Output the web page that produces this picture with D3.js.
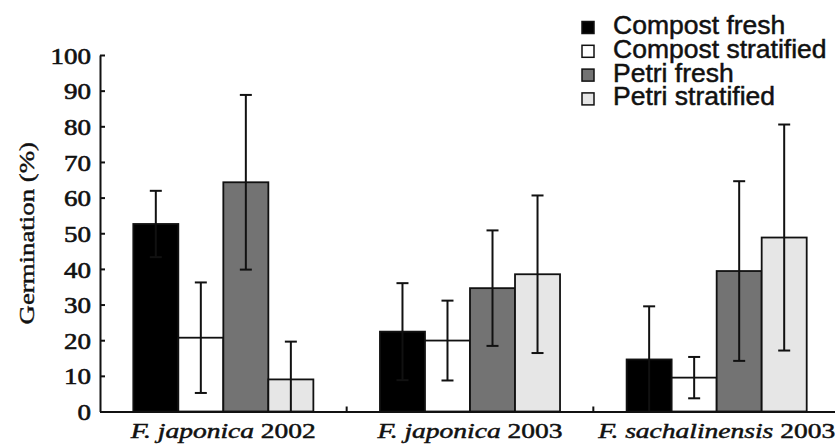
<!DOCTYPE html>
<html><head><meta charset="utf-8">
<script src="https://cdn.jsdelivr.net/npm/d3@7"></script>
<style>html,body{margin:0;padding:0;background:#fff;} svg{display:block;}</style>
</head><body>
<svg id="chart" width="835" height="448"></svg>
<script>
// ---- data ----
const groupSpecies = ["F. japonica", "F. japonica", "F. sachalinensis"];
const groupYears = ["2002", "2003", "2003"];
const series = ["Compost fresh", "Compost stratified", "Petri fresh", "Petri stratified"];
const compostFresh = [52.6, 22.4, 14.6];
const compostFreshErr = [9.3, 13.6, 14.9];
const compostStratified = [20.7, 19.9, 9.5];
const compostStratifiedErr = [15.5, 11.2, 5.8];
const petriFresh = [64.3, 34.6, 39.4];
const petriFreshErr = [24.5, 16.2, 25.2];
const petriStratified = [9.0, 38.5, 48.8];
const petriStratifiedErr = [10.6, 22.1, 31.7];
const yTicks = [0, 10, 20, 30, 40, 50, 60, 70, 80, 90, 100];
const fills = ["#000000", "#ffffff", "#737373", "#e6e6e6"];

const values = [compostFresh, compostStratified, petriFresh, petriStratified];
const errors = [compostFreshErr, compostStratifiedErr, petriFreshErr, petriStratifiedErr];

const svg = d3.select("#chart");
const serif = "'Liberation Serif','Times New Roman',serif";
const sans = "'Liberation Sans',Arial,sans-serif";

const x0 = d3.scaleBand().domain(d3.range(groupSpecies.length)).range([100, 840])
  .paddingInner(0.27).paddingOuter(0.135);
const x1 = d3.scaleBand().domain(series).range([0, x0.bandwidth()]);
const y = d3.scaleLinear().domain([0, 100]).range([411.5, 55]);

// bars
const data = [];
groupSpecies.forEach((g, gi) => series.forEach((s, si) => {
  data.push({gi, si, s, v: values[si][gi], e: errors[si][gi]});
}));

svg.append("g").selectAll("rect").data(data).join("rect")
  .attr("x", d => x0(d.gi) + x1(d.s))
  .attr("y", d => y(d.v))
  .attr("width", x1.bandwidth())
  .attr("height", d => y(0) - y(d.v))
  .attr("fill", d => fills[d.si])
  .attr("stroke", "#111")
  .attr("stroke-width", 1.8);

// error bars
const eb = svg.append("g").attr("stroke", "#111").attr("stroke-width", 2);
data.forEach(d => {
  const cx = x0(d.gi) + x1(d.s) + x1.bandwidth() / 2;
  const lo = Math.max(0, d.v - d.e), hi = d.v + d.e;
  eb.append("line").attr("x1", cx).attr("x2", cx).attr("y1", y(lo)).attr("y2", y(hi));
  eb.append("line").attr("x1", cx - 6).attr("x2", cx + 6).attr("y1", y(hi)).attr("y2", y(hi));
  if (d.v - d.e > 0) eb.append("line").attr("x1", cx - 6).attr("x2", cx + 6).attr("y1", y(lo)).attr("y2", y(lo));
});

// y axis
const ya = svg.append("g").attr("transform", "translate(100,0)")
  .call(d3.axisLeft(y).tickValues(yTicks).tickSize(-5).tickSizeOuter(0).tickPadding(9));
ya.select(".domain").attr("stroke", "#111").attr("stroke-width", 2);
ya.selectAll(".tick line").attr("stroke", "#111").attr("stroke-width", 2);
ya.selectAll(".tick text")
  .attr("x", 0).attr("dy", "0.36em")
  .attr("transform", "translate(-9,0) scale(1.2,1)")
  .attr("font-family", serif).attr("font-size", 22.5).attr("fill", "#111")
  .attr("stroke", "#111").attr("stroke-width", 0.6);

// x axis
const xa = svg.append("g").attr("transform", `translate(0,${y(0)})`)
  .call(d3.axisBottom(x0).tickSize(0).tickSizeOuter(0).tickFormat(""));
xa.select(".domain").attr("stroke", "#111").attr("stroke-width", 2);
xa.selectAll(".tick text").each(function(d) {
  const t = d3.select(this).attr("y", 27).attr("dy", 0).attr("x", 0)
    .attr("transform", "scale(1.25,1)")
    .attr("font-family", serif).attr("font-size", 22).attr("fill", "#111")
    .attr("stroke", "#111").attr("stroke-width", 0.5);
  t.text(null);
  t.append("tspan").attr("font-style", "italic").text(groupSpecies[d]);
  t.append("tspan").text(" " + groupYears[d]);
});
// boundary ticks between groups
d3.range(1, groupSpecies.length).forEach(i => {
  const bx = x0(i) - x0.step() * x0.paddingInner() / 2;
  xa.append("line").attr("x1", bx).attr("x2", bx).attr("y1", 0).attr("y2", -5)
    .attr("stroke", "#111").attr("stroke-width", 2);
});

// y label
svg.append("text")
  .attr("transform", `translate(34,${(y(0) + y(100)) / 2}) rotate(-90) scale(1.22,1)`)
  .attr("text-anchor", "middle")
  .attr("font-family", serif).attr("font-size", 22).attr("fill", "#111")
  .attr("stroke", "#111").attr("stroke-width", 0.4)
  .text("Germination (%)");

// legend
const lg = svg.append("g");
series.forEach((s, i) => {
  const by = 34 + i * 23.8;
  lg.append("rect").attr("x", 582).attr("y", by - 12.5).attr("width", 12).attr("height", 12)
    .attr("fill", fills[i]).attr("stroke", "#111").attr("stroke-width", 1.5);
  lg.append("text").attr("x", 613).attr("y", by)
    .attr("font-family", sans).attr("font-size", 26.5).attr("fill", "#111")
    .attr("stroke", "#111").attr("stroke-width", 0.5)
    .text(s);
});
</script>
</body></html>
